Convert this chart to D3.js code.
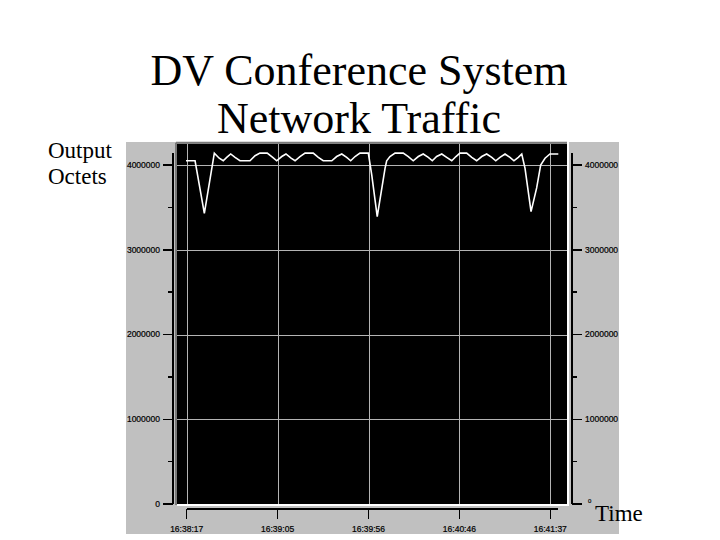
<!DOCTYPE html>
<html><head><meta charset="utf-8">
<script src="https://cdn.jsdelivr.net/npm/d3@7"></script>
<style>html,body{margin:0;padding:0;background:#fff;}svg{display:block;}</style>
</head><body>
<svg id="chart" width="720" height="540"></svg>
<script>
// seconds since 16:38:17 (as plotted) and output octets
const seconds = [-0.4,4.6,9.7,15.2,17.9,20.1,22.0,24.2,26.6,29.3,34.8,37.6,40.3,44.3,47.3,49.5,52.3,54.6,57.4,59.6,62.3,65.1,69.6,72.4,75.1,79.8,82.5,85.3,88.0,90.2,92.6,95.3,99.9,101.8,104.8,109.1,110.0,111.8,114.6,119.1,121.9,124.6,127.4,130.1,132.9,135.1,137.5,140.3,143.0,145.8,148.1,150.3,154.0,156.8,159.5,162.3,165.0,167.8,170.0,172.3,175.1,177.8,180.0,182.4,184.3,186.1,189.4,192.5,194.7,197.1,199.8,204.4];
const octets = [4050000,4050000,3430000,4140000,4080000,4050000,4090000,4130000,4090000,4050000,4050000,4110000,4140000,4140000,4090000,4050000,4100000,4130000,4080000,4050000,4100000,4140000,4140000,4090000,4050000,4050000,4100000,4130000,4090000,4050000,4100000,4140000,4140000,3880000,3390000,3960000,4050000,4100000,4140000,4140000,4100000,4050000,4100000,4130000,4090000,4050000,4100000,4130000,4090000,4050000,4100000,4140000,4140000,4090000,4050000,4100000,4130000,4090000,4050000,4090000,4130000,4090000,4050000,4090000,4130000,3960000,3450000,3730000,4000000,4080000,4130000,4130000];
const xTickSeconds = [0,50,100,150,200];
const xTickLabels = ["16:38:17","16:39:05","16:39:56","16:40:46","16:41:37"];
const yMajorTicks = [0,1000000,2000000,3000000,4000000];
const yMinorTicks = [500000,1500000,2500000,3500000];
const titleLines = ["DV Conference System","Network Traffic"];
const yLabelLines = ["Output","Octets"];
const xLabel = "Time";

const svg = d3.select("#chart");
const x = d3.scaleLinear().domain([0,200]).range([186.7,550.3]);
const y = d3.scaleLinear().domain([0,4000000]).range([504,165]);
const yTop = 4250000, yAxisTop = 4140000;

// grey panel
svg.append("rect").attr("x",126).attr("y",142).attr("width",493).attr("height",392).attr("fill","#c0c0c0");

// plot area
const px0 = 177, px1 = 567;
svg.append("rect").attr("x",px0).attr("y",y(yTop)).attr("width",px1-px0).attr("height",y(0)-y(yTop)).attr("fill","#000");
svg.append("line").attr("x1",px0-1).attr("x2",px1).attr("y1",y(yTop)-1).attr("y2",y(yTop)-1).attr("stroke","#7a7a7a").attr("stroke-width",2);
svg.append("line").attr("x1",px0-1).attr("x2",px0-1).attr("y1",y(yTop)-1).attr("y2",y(0)+1).attr("stroke","#7a7a7a").attr("stroke-width",2);
svg.append("line").attr("x1",px0).attr("x2",px1+2).attr("y1",y(0)+1).attr("y2",y(0)+1).attr("stroke","#fff").attr("stroke-width",2);
svg.append("line").attr("x1",px1+1).attr("x2",px1+1).attr("y1",y(yTop)-2).attr("y2",y(0)+2).attr("stroke","#fff").attr("stroke-width",2);

// grid
const grid = svg.append("g").attr("stroke","#b4b4b4").attr("stroke-width",1).attr("shape-rendering","crispEdges");
yMajorTicks.filter(d=>d>0).forEach(d=>{
  grid.append("line").attr("x1",px0).attr("x2",px1).attr("y1",Math.round(y(d))+0.5).attr("y2",Math.round(y(d))+0.5);
});
xTickSeconds.forEach(d=>{
  grid.append("line").attr("x1",Math.round(x(d))+0.5).attr("x2",Math.round(x(d))+0.5).attr("y1",y(yTop)).attr("y2",y(0));
});

// data line
const line = d3.line().x((d,i)=>x(seconds[i])).y(d=>y(d));
svg.append("path").datum(octets).attr("d",line).attr("fill","none").attr("stroke","#fff").attr("stroke-width",1.6).attr("stroke-linejoin","miter");

// axes
const fnt = "Liberation Sans, Arial, sans-serif";
function yAxis(ax, dir){
  const g = svg.append("g").attr("shape-rendering","crispEdges");
  g.append("line").attr("x1",ax).attr("x2",ax).attr("y1",y(yAxisTop)).attr("y2",y(0)).attr("stroke","#000").attr("stroke-width",1.5);
  yMajorTicks.forEach(d=>{
    g.append("line").attr("x1",ax).attr("x2",ax+dir*10).attr("y1",y(d)).attr("y2",y(d)).attr("stroke","#000").attr("stroke-width",1.5);
  });
  yMinorTicks.forEach(d=>{
    g.append("line").attr("x1",ax).attr("x2",ax+dir*5).attr("y1",y(d)).attr("y2",y(d)).attr("stroke","#000").attr("stroke-width",1.5);
  });
  yMajorTicks.forEach(d=>{
    const small = (dir>0 && d===0);
    g.append("text").attr("x", dir<0 ? ax-13 : ax+(small?16:13)).attr("y", small ? y(d)-3 : y(d)).attr("dy","0.35em")
      .attr("text-anchor", dir<0 ? "end" : "start").attr("font-family",fnt).attr("font-size", small?6:8.5)
      .attr("fill","#000").attr("stroke","#000").attr("stroke-width",0.2).text(d);
  });
}
yAxis(173,-1);
yAxis(572,1);

const xg = svg.append("g").attr("shape-rendering","crispEdges");
xg.append("line").attr("x1",x(0)).attr("x2",x(seconds[seconds.length-1])).attr("y1",509).attr("y2",509).attr("stroke","#000").attr("stroke-width",1.5);
xTickSeconds.forEach((d,i)=>{
  xg.append("line").attr("x1",x(d)).attr("x2",x(d)).attr("y1",509).attr("y2",519).attr("stroke","#000").attr("stroke-width",1.5);
  xg.append("text").attr("x",x(d)).attr("y",529).attr("dy","0.35em").attr("text-anchor","middle").attr("font-family",fnt).attr("font-size",8.5)
    .attr("fill","#000").attr("stroke","#000").attr("stroke-width",0.2).text(xTickLabels[i]);
});

// titles
const serif = "Liberation Serif, Times New Roman, serif";
titleLines.forEach((t,i)=>{
  svg.append("text").attr("x",359).attr("y",85+i*48).attr("text-anchor","middle").attr("font-family",serif).attr("font-size",44).attr("fill","#000").text(t);
});
yLabelLines.forEach((t,i)=>{
  svg.append("text").attr("x",48).attr("y",158+i*26).attr("font-family",serif).attr("font-size",23).attr("fill","#000").text(t);
});
svg.append("text").attr("x",595).attr("y",521).attr("font-family",serif).attr("font-size",23).attr("fill","#000").text(xLabel);
</script>
</body></html>
